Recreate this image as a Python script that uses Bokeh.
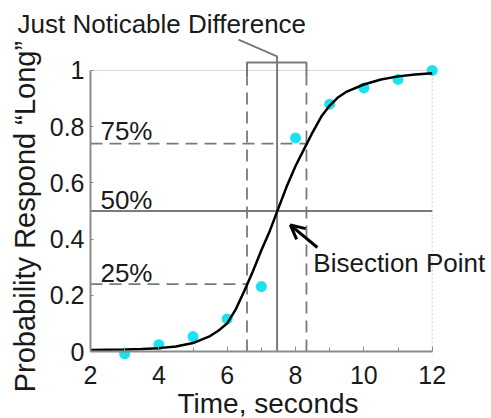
import math
from bokeh.plotting import figure
from bokeh.models import Range1d, FixedTicker, SingleIntervalTicker, Label, Arrow, OpenHead
from bokeh.embed import file_html
from bokeh.resources import INLINE

# ---- data ----
time_pts = [3, 4, 5, 6, 7, 8, 9, 10, 11, 12]
prob_pts = [-0.008, 0.024, 0.053, 0.116, 0.231, 0.76, 0.88, 0.938, 0.968, 1.0]

curve_x = [2.0, 2.5, 3.0, 3.5, 4.0, 4.5, 5.0, 5.5, 5.75, 6.0, 6.25, 6.5, 6.75, 7.0,
           7.25, 7.5, 7.75, 8.0, 8.25, 8.5, 8.75, 9.0, 9.25, 9.5, 10.0, 10.5, 11.0, 11.5, 12.0]
curve_y = [0.005, 0.006, 0.007, 0.009, 0.012, 0.018, 0.03, 0.055, 0.075, 0.1, 0.15, 0.215,
           0.285, 0.36, 0.43, 0.51, 0.59, 0.66, 0.72, 0.78, 0.835, 0.875, 0.905, 0.925,
           0.95, 0.968, 0.979, 0.986, 0.99]

pse = 7.46          # bisection point (50%)
jnd_lo = 6.58       # 25% point
jnd_hi = 8.32       # 75% point
p25, p50, p75 = 0.24, 0.5, 0.74

x_ticks = [2, 4, 6, 8, 10, 12]
y_ticks = [0, 0.2, 0.4, 0.6, 0.8, 1]
y_tick_labels = ["0", "0.2", "0.4", "0.6", "0.8", "1"]

FONT = "Liberation Sans"
TXT = "#1a1a1a"
REF = "#7a7a7a"
AX = "#8c8c8c"

p = figure(width=491, height=418, output_backend="svg", toolbar_location=None, title=None,
           x_range=Range1d(-0.634, 13.735), y_range=Range1d(-0.2384, 1.249),
           min_border=0, min_border_left=0, min_border_right=0,
           min_border_top=0, min_border_bottom=0)
p.xgrid.visible = False
p.ygrid.visible = False
p.outline_line_color = None
p.background_fill_color = "white"
p.border_fill_color = "white"

xa = p.xaxis[0]
xa.ticker = SingleIntervalTicker(interval=2, num_minor_ticks=2)
xa.bounds = (x_ticks[0], x_ticks[-1])
xa.fixed_location = y_ticks[0]
ya = p.yaxis[0]
ya.ticker = FixedTicker(ticks=y_ticks)
ya.bounds = (y_ticks[0], y_ticks[-1])
ya.fixed_location = x_ticks[0]
ya.major_label_overrides = {t: l for t, l in zip(y_ticks, y_tick_labels)}
for ax in (xa, ya):
    ax.axis_line_color = AX
    ax.axis_line_width = 2
    ax.major_tick_line_color = AX
    ax.minor_tick_line_color = AX
    ax.major_tick_in = 5
    ax.major_tick_out = 0
    ax.minor_tick_in = 4
    ax.minor_tick_out = 0
    ax.major_label_text_font = FONT
    ax.major_label_text_font_size = "25px"
    ax.major_label_text_color = TXT
ya.major_tick_in = 3
ya.major_label_standoff = 6
xa.major_label_standoff = 14

# light box top/right
p.line([x_ticks[0], x_ticks[-1]], [y_ticks[-1], y_ticks[-1]], line_color="#d8d8d8", line_width=1)
p.line([x_ticks[-1], x_ticks[-1]], [y_ticks[0], y_ticks[-1]], line_color="#c8c8c8", line_width=1, line_dash="2 2")

# reference lines
p.line([x_ticks[0], x_ticks[-1]], [p50, p50], line_color=REF, line_width=2)
p.line([pse, pse], [0, 1.028], line_color=REF, line_width=2)
for xv in (jnd_lo, jnd_hi):
    p.line([xv, xv], [0, 0.975], line_color=REF, line_width=1.8, line_dash="12 7")
p.line([x_ticks[0], jnd_hi], [p75, p75], line_color=REF, line_width=1.8, line_dash="12 7")
p.line([x_ticks[0], jnd_lo], [p25, p25], line_color=REF, line_width=1.8, line_dash="12 7")
# bracket + leader
p.line([jnd_lo, jnd_lo, jnd_hi, jnd_hi], [0.975, 1.028, 1.028, 0.975], line_color=REF, line_width=2)
p.line([pse, pse, 6.33], [1.028, 1.05, 1.11], line_color=REF, line_width=2)

# data
p.scatter(time_pts, prob_pts, size=11, fill_color="#19e3ef", line_color=None)
p.line(curve_x, curve_y, line_color="black", line_width=2.5)

p.add_layout(Arrow(end=OpenHead(size=14, line_width=3, line_color="black"),
                   x_start=8.64, y_start=0.37, x_end=7.85, y_end=0.45,
                   line_width=3, line_color="black"))

def lab(x, y, t, size="26px", **kw):
    p.add_layout(Label(x=x, y=y, text=t, text_font=FONT, text_font_size=size,
                       text_color=TXT, text_baseline="alphabetic", **kw))

dy = 0.032
lab(-0.136, 1.132 + dy, "Just Noticable Difference", "26px")
lab(2.29, 0.751 + dy, "75%")
lab(2.29, 0.508 + dy, "50%")
lab(2.29, 0.247 + dy, "25%")
lab(8.52, 0.282 + dy, "Bisection Point")
lab(4.546, -0.216 + dy, "Time, seconds", "28px")
lab(0.07, 0.48, "Probability Respond \u201cLong\u201d", "29px", angle=math.pi / 2,
    text_align="center")

open("out.html", "w").write(file_html(p, INLINE))
